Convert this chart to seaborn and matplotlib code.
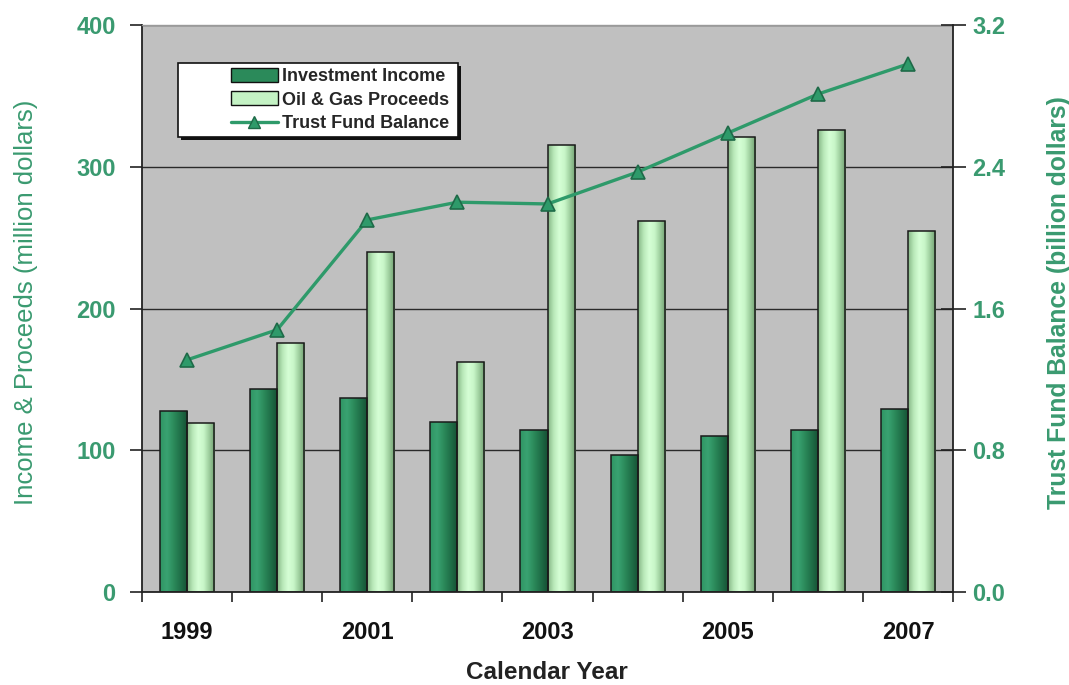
import numpy as np
import pandas as pd
import matplotlib
matplotlib.use("Agg")
import matplotlib.pyplot as plt
import seaborn as sns
from matplotlib.patches import Rectangle, Patch
from matplotlib.lines import Line2D
from matplotlib.colors import LinearSegmentedColormap
from matplotlib.ticker import FixedLocator, NullFormatter, FixedFormatter

# ---------------- data ----------------
years = ['1999', '2000', '2001', '2002', '2003', '2004', '2005', '2006', '2007']
investment_income = [128, 143, 137, 120, 114, 97, 110, 114, 129]          # million $
oil_gas_proceeds = [119, 176, 240, 162, 315, 262, 321, 326, 255]          # million $
trust_fund_balance = [1.31, 1.48, 2.10, 2.20, 2.19, 2.37, 2.59, 2.81, 2.98]  # billion $
shown_year_labels = ['1999', '2001', '2003', '2005', '2007']
series_names = ['Investment Income', 'Oil & Gas Proceeds']
line_name = 'Trust Fund Balance'
left_ticks = [0, 100, 200, 300, 400]
right_ticks = [0.0, 0.8, 1.6, 2.4, 3.2]

# ---------------- style ----------------
DARK = '#2b8a5a'
LIGHT = '#c4f2c4'
LINE = '#2e9a6a'
GREEN_TXT = '#3a9a70'
BG = '#c0c0c0'

sns.set_theme(style='white')
plt.rcParams['font.family'] = ['Liberation Sans', 'DejaVu Sans']

W, H = 1069, 685
fig = plt.figure(figsize=(W / 100, H / 100), dpi=100)
fig.patch.set_facecolor('white')
ax_l, ax_r, ax_t, ax_b = 142, 953, 25, 592
ax = fig.add_axes([ax_l / W, 1 - ax_b / H, (ax_r - ax_l) / W, (ax_b - ax_t) / H])
ax.set_facecolor(BG)

df = pd.DataFrame({
    'year': years * 2,
    'series': [s for s in series_names for _ in years],
    'value': investment_income + oil_gas_proceeds,
})

sns.barplot(data=df, x='year', y='value', hue='series', order=years,
            hue_order=series_names, palette=[DARK, LIGHT], width=0.6,
            saturation=1, edgecolor='#1a1a1a', linewidth=1.1, ax=ax,
            legend=False, errorbar=None)

# gradient fills (cylinder-like shading as in the original)
cmaps = [
    LinearSegmentedColormap.from_list('d', ['#2f9464', '#3aa372', '#2b8a5a', '#1f6e47', '#154f33']),
    LinearSegmentedColormap.from_list('l', ['#86b686', '#b8e8b8', '#d6ffd6', '#c8f6c8', '#9ccc9c', '#6f9f6f']),
]
grad = np.linspace(0, 1, 256).reshape(1, -1)
for cont, cm in zip(ax.containers, cmaps):
    for patch in cont:
        x0, y0 = patch.get_x(), patch.get_y()
        w, h = patch.get_width(), patch.get_height()
        im = ax.imshow(grad, cmap=cm, extent=[x0, x0 + w, y0, y0 + h],
                       aspect='auto', zorder=1.5, interpolation='bicubic')
        im.set_clip_path(patch)
        patch.set_facecolor('none')
        patch.set_zorder(2)

ax.set_xlim(-0.5, len(years) - 0.5)
ax.set_ylim(0, 400)
ax.yaxis.grid(True, color='#2a2a2a', linewidth=1.0)
ax.xaxis.grid(False)
ax.set_axisbelow(True)

# secondary axis
ax2 = ax.twinx()
sns.pointplot(x=years, y=trust_fund_balance, ax=ax2, color=LINE, markers='^',
              linestyles='-', markersize=10, linewidth=2.4, errorbar=None)
for ln in ax2.lines:
    ln.set_markeredgecolor('#1e6a48')
    ln.set_markerfacecolor(LINE)
    ln.set_markeredgewidth(1.2)
ax2.set_ylim(0, 3.2)
ax.set_xlim(-0.5, len(years) - 0.5)
ax2.set_xlim(-0.5, len(years) - 0.5)

# ticks
ax.yaxis.set_major_locator(FixedLocator(left_ticks))
ax.set_yticklabels([str(t) for t in left_ticks])
ax.tick_params(axis='y', direction='out', length=9, width=1.2, color='#222222',
               labelcolor=GREEN_TXT, labelsize=17, pad=10, left=True)
for t in ax.get_yticklabels():
    t.set_fontweight('bold')

ax2.yaxis.set_major_locator(FixedLocator(right_ticks))
ax2.set_yticklabels([f'{t:.1f}' for t in right_ticks])
ax2.tick_params(axis='y', direction='inout', length=18, width=1.2, color='#222222',
                labelcolor=GREEN_TXT, labelsize=17, pad=5, right=True)
for t in ax2.get_yticklabels():
    t.set_fontweight('bold')

boundaries = list(np.arange(-0.5, len(years), 1.0))
label_pos = [years.index(y) for y in shown_year_labels]
ax.xaxis.set_major_locator(FixedLocator(boundaries))
ax.xaxis.set_major_formatter(NullFormatter())
ax.xaxis.set_minor_locator(FixedLocator(label_pos))
ax.xaxis.set_minor_formatter(FixedFormatter(shown_year_labels))
ax.tick_params(axis='x', which='major', direction='out', length=7, width=1.2,
               color='#222222', bottom=True)
ax.tick_params(axis='x', which='minor', length=0, labelsize=17, pad=21,
               labelcolor='#111111', bottom=True)
for t in ax.xaxis.get_minorticklabels():
    t.set_fontweight('bold')
ax2.tick_params(axis='x', which='both', bottom=False, top=False)

# spines
for a in (ax, ax2):
    for s in a.spines.values():
        s.set_visible(False)
ax.spines['left'].set_visible(True)
ax.spines['left'].set_color('#222222')
ax.spines['left'].set_linewidth(1.3)
ax.spines['bottom'].set_visible(True)
ax.spines['bottom'].set_color('#222222')
ax.spines['bottom'].set_linewidth(1.3)
ax.spines['top'].set_visible(True)
ax.spines['top'].set_color('#9a9a9a')
ax.spines['top'].set_linewidth(1.0)
ax2.spines['right'].set_visible(True)
ax2.spines['right'].set_color('#222222')
ax2.spines['right'].set_linewidth(1.3)

# axis labels
ax.set_xlabel('Calendar Year', fontsize=17.5, fontweight='bold', color='#222222')
ax.xaxis.set_label_coords((547 - ax_l) / (ax_r - ax_l), (ax_b - 661) / (ax_b - ax_t))
ax.set_ylabel('Income & Proceeds (million dollars)', fontsize=18.5, color=GREEN_TXT,
              fontweight='normal')
ax.yaxis.set_label_coords((38 - ax_l) / (ax_r - ax_l), (ax_b - 302) / (ax_b - ax_t))
ax2.set_ylabel('Trust Fund Balance (billion dollars)', fontsize=17.8, color=GREEN_TXT,
               fontweight='bold', rotation=90)
ax2.yaxis.set_label_coords((1047 - ax_l) / (ax_r - ax_l), (ax_b - 303) / (ax_b - ax_t))

# legend frame with shadow
def axx(px):
    return (px - ax_l) / (ax_r - ax_l)

def axy(py):
    return (ax_b - py) / (ax_b - ax_t)

fx0, fx1, fy0, fy1 = axx(178), axx(458), axy(137), axy(63)
shadow = Rectangle((fx0 + 0.004, fy0 - 0.006), fx1 - fx0, fy1 - fy0, transform=ax2.transAxes,
                   facecolor='#111111', edgecolor='none', zorder=8)
frame = Rectangle((fx0, fy0), fx1 - fx0, fy1 - fy0, transform=ax2.transAxes,
                  facecolor='white', edgecolor='#111111', linewidth=1.2, zorder=9)
ax2.add_patch(shadow)
ax2.add_patch(frame)

handles = [
    Patch(facecolor=DARK, edgecolor='#111111', linewidth=1.0),
    Patch(facecolor=LIGHT, edgecolor='#111111', linewidth=1.0),
    Line2D([0], [0], color=LINE, linewidth=2.4, marker='^', markersize=9,
           markerfacecolor=LINE, markeredgecolor='#1e6a48'),
]
leg = ax2.legend(handles, series_names + [line_name], loc='center',
                 bbox_to_anchor=(axx(340), axy(100)), frameon=False,
                 prop={'size': 13, 'weight': 'bold'}, handlelength=2.6,
                 handleheight=0.8, handletextpad=0.25, labelspacing=0.35,
                 borderpad=0.2)
leg.set_zorder(10)

fig.savefig('out.png', dpi=100, facecolor='white')
